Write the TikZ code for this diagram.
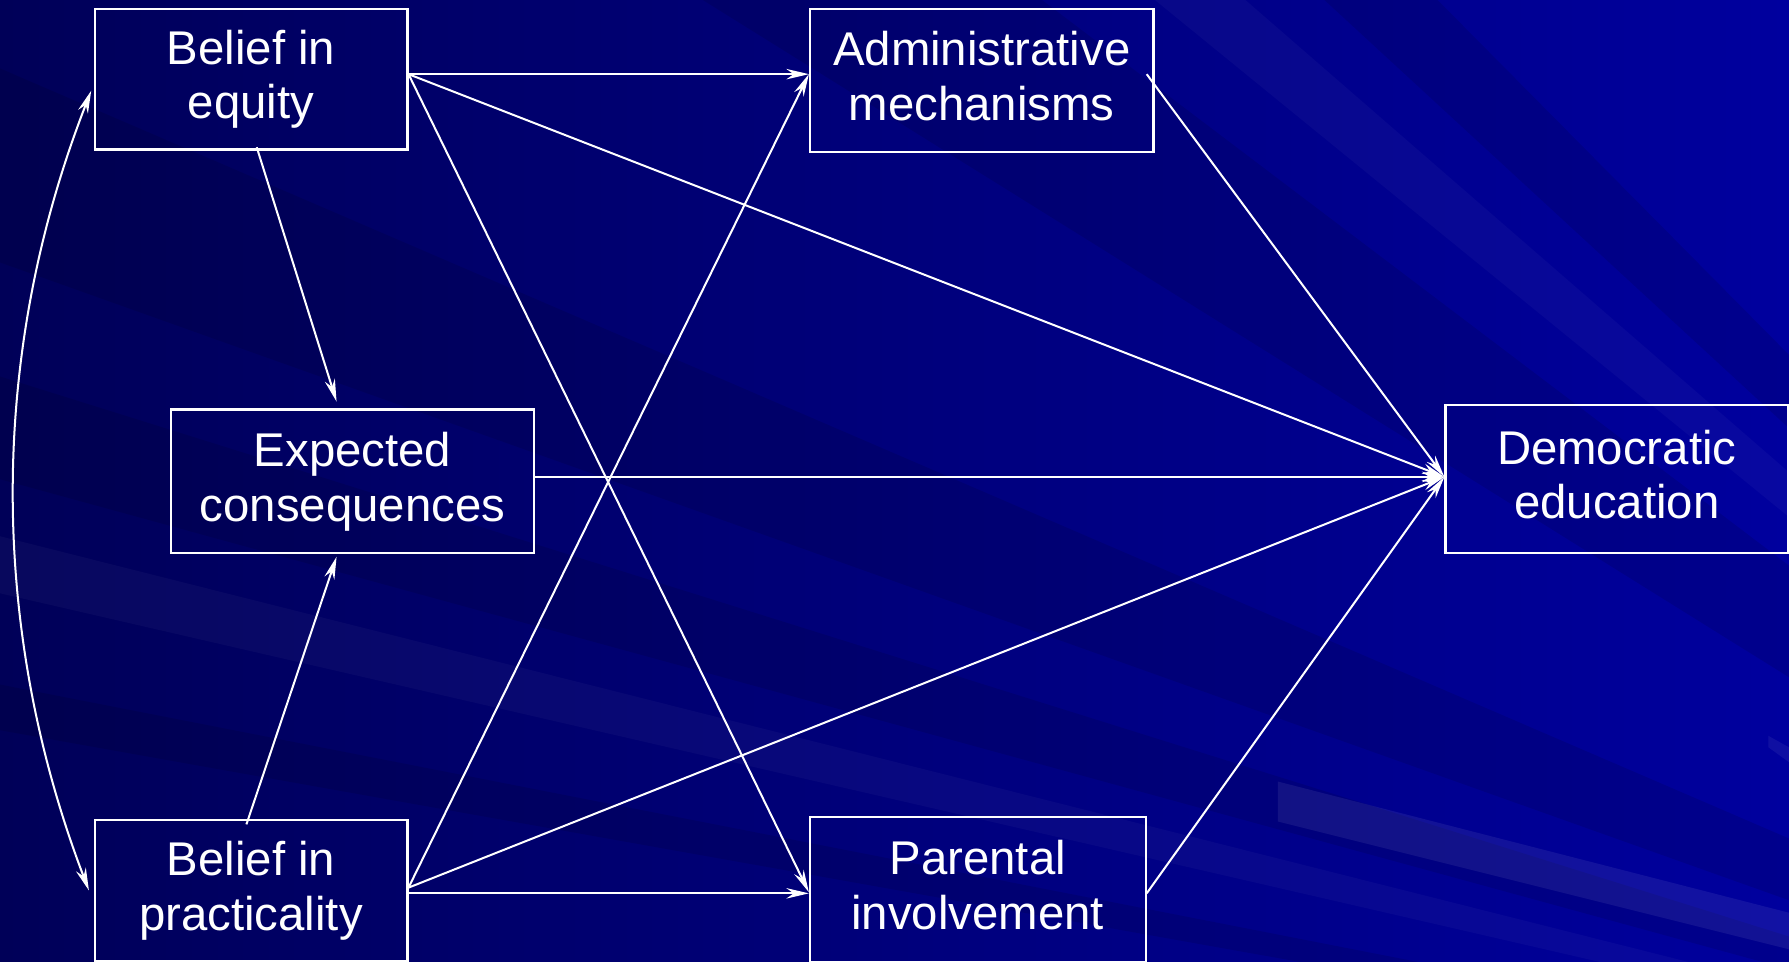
\documentclass[tikz,border=0pt]{standalone}
\usepackage{fontspec}
\setmainfont{Liberation Sans}
\usetikzlibrary{arrows.meta,calc}
\definecolor{bgdark}{RGB}{0,0,88}
\definecolor{bglight}{RGB}{0,0,158}
\begin{document}
\begin{tikzpicture}[x=0.01cm,y=-0.01cm,
  box/.style={draw=white,line width=0.55pt,inner sep=0pt,align=center,text=white,
    font=\fontsize{11.8}{13.66}\selectfont},
  conn/.style={draw=white,line width=0.5pt,-{Stealth[length=5.6pt,width=2.6pt]}},
  dconn/.style={draw=white,line width=0.5pt,{Stealth[length=5.6pt,width=2.6pt]}-{Stealth[length=5.6pt,width=2.6pt]}},
  ray/.style={fill=black,opacity=0.10},
  lray/.style={fill=white,opacity=0.03}]
% background
\useasboundingbox (0,0) rectangle (1568,843);
\fill[left color=bgdark,right color=bglight] (0,0) rectangle (1568,843);
\begin{scope}
\clip (0,0) rectangle (1568,843);
\coordinate (F) at (2300,1050);
\fill[ray] (F) -- (0,60) -- (0,230) -- cycle;
\fill[ray] (F) -- (0,330) -- (0,420) -- cycle;
\fill[ray] (F) -- (0,600) -- (0,640) -- cycle;
\fill[ray] (F) -- (600,-10) -- (900,-10) -- cycle;
\fill[ray] (F) -- (1150,-10) -- (1250,-10) -- cycle;
\fill[lray] (F) -- (0,470) -- (0,520) -- cycle;
\fill[lray] (F) -- (1000,-10) -- (1080,-10) -- cycle;
\fill[white,opacity=0.07] (1120,685) -- (1568,800) -- (1568,832) -- (1120,720) -- cycle;
\fill[white,opacity=0.06] (1550,645) -- (1568,655) -- (1568,668) -- (1550,655) -- cycle;
\end{scope}
% nodes
\node[box,minimum width=2.74cm,minimum height=1.23cm] (eq) at (220,69.5) {Belief in\\equity};
\node[box,minimum width=3.01cm,minimum height=1.25cm] (ad) at (860.5,70.5) {Administrative\\mechanisms\vphantom{y}};
\node[box,minimum width=3.18cm,minimum height=1.26cm] (ex) at (309,422) {Expected\\consequences};
\node[box,minimum width=3.00cm,minimum height=1.30cm] (de) at (1417,420) {Democratic\\education\vphantom{y}};
\node[box,minimum width=2.74cm,minimum height=1.24cm] (pr) at (220,780.5) {Belief in\\practicality};
\node[box,minimum width=2.94cm,minimum height=1.27cm] (pa) at (857,779.5) {Parental\\involvement\vphantom{y}};
% connector points
\coordinate (din) at ($(de.west)+(0,-2)$);
\coordinate (eqo) at ($(eq.east)+(0,-4.5)$);
\coordinate (pro) at ($(pr.east)+(0,-2.5)$);
% connectors
\draw[conn] (eqo) -- ($(ad.west)+(0,-5.5)$);
\draw[conn] (eqo) -- (din);
\draw[conn] (eqo) -- ($(pa.west)+(0,2.5)$);
\draw[conn] ($(eq.south)+(5,-3)$) -- ($(ex.north)+(-14,-6)$);
\draw[conn] ($(pr.north)+(-4,5)$) -- ($(ex.south)+(-14,2)$);
\draw[conn] (pro) -- ($(ad.west)+(0,-5.5)$);
\draw[conn] (pro) -- (din);
\draw[conn] ($(pr.east)+(0,2.5)$) -- ($(pa.west)+(0,3.5)$);
\draw[conn] ($(ex.east)+(0,-4)$) -- (din);
\draw[conn] ($(ad.east)+(-7,-5.5)$) -- (din);
\draw[conn] ($(pa.east)+(0,3.5)$) -- (din);
\draw[dconn] ($(eq.west)+(-2,10)$) .. controls (-10,310) and (-10,550) .. ($(pr.west)+(-4,0)$);
\end{tikzpicture}
\end{document}
